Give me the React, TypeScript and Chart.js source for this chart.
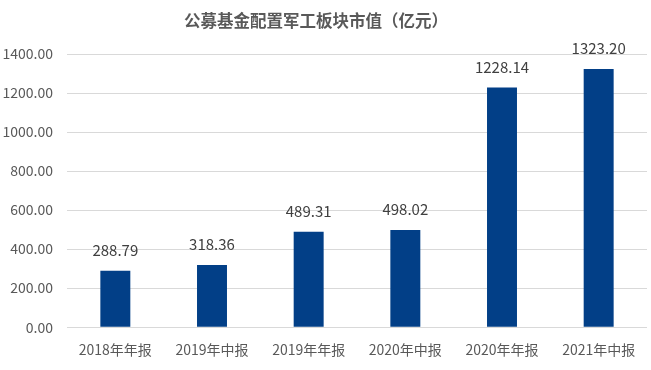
import React, { useEffect, useRef } from "react";
import { Chart, registerables } from "chart.js";

Chart.register(...registerables);

const categories = ["2018年年报", "2019年中报", "2019年年报", "2020年中报", "2020年年报", "2021年中报"];
const values = [288.79, 318.36, 489.31, 498.02, 1228.14, 1323.2];
const yTicks = [0, 200, 400, 600, 800, 1000, 1200, 1400];
const titleText = "公募基金配置军工板块市值（亿元）";

const FONT = "'Noto Sans CJK SC', 'Noto Sans', sans-serif";

const labelPlugin = {
  id: "barLabels",
  afterDatasetsDraw(chart: any) {
    const ctx = chart.ctx;
    const meta = chart.getDatasetMeta(0);
    ctx.save();
    ctx.font = `15px ${FONT}`;
    ctx.fillStyle = "#404040";
    ctx.textAlign = "center";
    ctx.textBaseline = "alphabetic";
    meta.data.forEach((bar: any, i: number) => {
      ctx.fillText(values[i].toFixed(2), bar.x, bar.y - 15);
    });
    ctx.restore();
  },
};

const titlePlugin = {
  id: "topTitle",
  afterDraw(chart: any) {
    const ctx = chart.ctx;
    ctx.save();
    ctx.font = `bold 16.5px ${FONT}`;
    ctx.fillStyle = "#595959";
    ctx.textAlign = "center";
    ctx.textBaseline = "middle";
    ctx.fillText(titleText, 316, 21);
    ctx.restore();
  },
};

export default function App() {
  const ref = useRef<HTMLCanvasElement | null>(null);
  useEffect(() => {
    if (!ref.current) return;
    const chart = new Chart(ref.current, {
      type: "bar",
      data: {
        labels: categories,
        datasets: [
          {
            data: values,
            backgroundColor: "#023F87",
            barPercentage: 0.62,
            categoryPercentage: 0.5,
          },
        ],
      },
      options: {
        animation: false,
        responsive: false,
        maintainAspectRatio: false,
        layout: { padding: { left: 0, right: 4, top: 54, bottom: 6 } },
        plugins: {
          legend: { display: false },
          tooltip: { enabled: false },
          title: { display: false },
        },
        scales: {
          x: {
            grid: { display: false },
            border: { display: false },
            ticks: {
              color: "#595959",
              font: { family: FONT, size: 14 },
              padding: 6,
              maxRotation: 0,
            },
          },
          y: {
            min: 0,
            max: 1400,
            afterBuildTicks: (s: any) => {
              s.ticks = yTicks.map((v) => ({ value: v }));
            },
            afterFit: (s: any) => {
              s.width = 67;
            },
            grid: { color: "#d9d9d9", lineWidth: 1, drawTicks: false },
            border: { display: false },
            ticks: {
              color: "#595959",
              font: { family: FONT, size: 14 },
              padding: 14,
              callback: (v: any) => Number(v).toFixed(2),
            },
          },
        },
      },
      plugins: [labelPlugin, titlePlugin],
    });
    return () => chart.destroy();
  }, []);
  return (
    <div style={{ position: "fixed", left: 0, top: 0, width: 651, height: 370, background: "#fff" }}>
      <canvas ref={ref} width={651} height={370} style={{ width: 651, height: 370 }} />
    </div>
  );
}
